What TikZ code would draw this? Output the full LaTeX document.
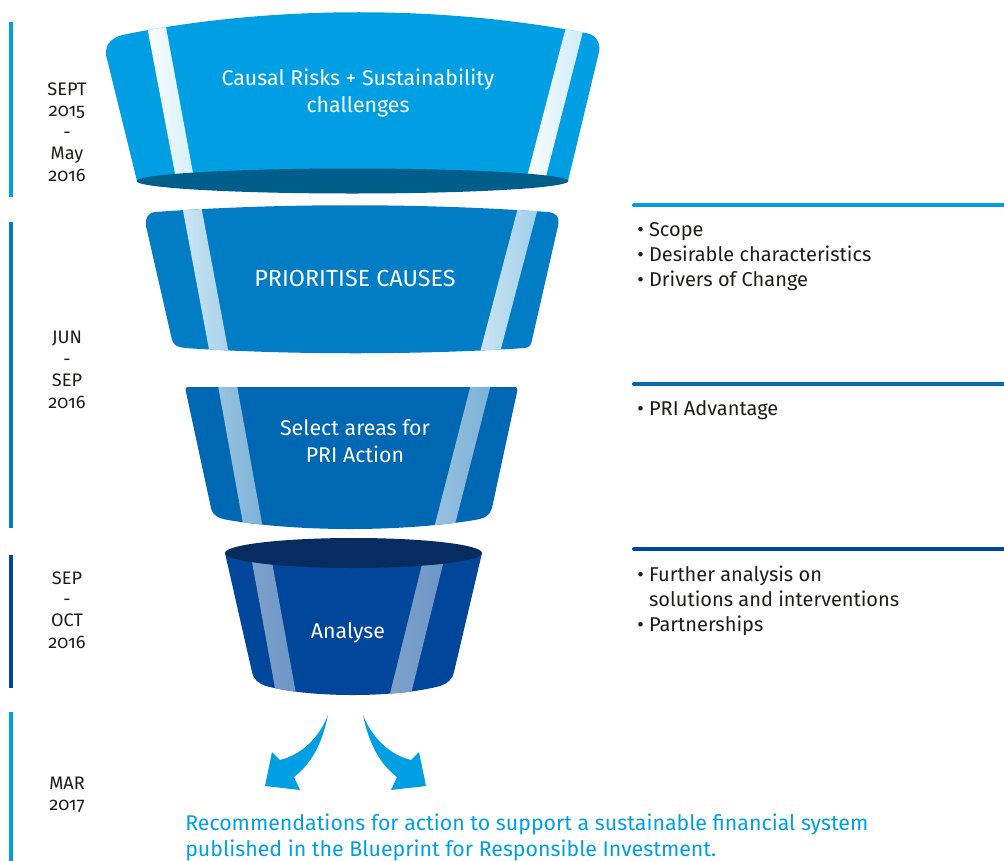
\documentclass[tikz,border=0pt]{standalone}
\usepackage{fontspec}
\setmainfont[Numbers=OldStyle]{Fira Sans}
\definecolor{cyanA}{HTML}{009FE3}
\definecolor{blueB}{HTML}{007DC5}
\definecolor{blueC}{HTML}{0068B3}
\definecolor{blueD}{HTML}{00469A}
\definecolor{tealA}{HTML}{005F8A}
\definecolor{navyD}{HTML}{062C60}
\definecolor{inkA}{HTML}{1D1D1B}
\begin{document}
\begin{tikzpicture}[x=0.75pt,y=-0.75pt,
  date/.style={align=center,text=inkA,inner sep=0pt,font=\fontsize{13.6}{16.1}\selectfont},
  stage/.style={align=center,text=white,inner sep=0pt,font=\fontsize{16}{20.25}\selectfont},
  note/.style={anchor=base west,align=left,text=inkA,inner sep=0pt,font=\fontsize{15}{18.75}\selectfont},
  bar/.style={line width=2.6pt},
  rule/.style={line width=3pt,line cap=round}]
\useasboundingbox (0,0) rectangle (1004,861);
\draw[bar,cyanA] (11,22)--(11,197);
\draw[bar,blueB] (11,222)--(11,528);
\draw[bar,blueD] (11,555)--(11,688);
\draw[bar,cyanA] (11,712)--(11,861);
\node[date] (d1) at (67,132) {SEPT\\2015\\-\\May\\2016};
\node[date] (d2) at (67,370) {JUN\\-\\SEP\\2016};
\node[date] (d3) at (67,610) {SEP\\-\\OCT\\2016};
\node[date] (d4) at (67,795) {MAR\\2017};
\begin{scope}
\clip (106,55) .. controls (105,44) and (112,38) .. (122,35)
  .. controls (270,5) and (440,5) .. (586,33)
  .. controls (595,35) and (601,41) .. (599,52) -- (568,181) -- (137,181) -- cycle;
\fill[cyanA] (90,0) rectangle (620,200);
\shade[left color=white,right color=cyanA!18] (142,0)--(161,0)--(198,200)--(180,200)--cycle;
\shade[left color=white,right color=cyanA!22] (573,0)--(591,0)--(540,200)--(521,200)--cycle;
\end{scope}
\fill[tealA] (352.5,181) ellipse (216 and 12.5);
\node[stage] (risks) at (358,93) {Causal Risks + Sustainability\\challenges};
\begin{scope}
\clip (146,226) -- (172,340) .. controls (174,346) and (178,347) .. (185,348)
  .. controls (290,355) and (420,355) .. (525,348)
  .. controls (530,347) and (531,345) .. (532,340) -- (558,226)
  .. controls (560,216) and (556,213) .. (548,212)
  .. controls (420,203) and (280,203) .. (155,212)
  .. controls (148,213) and (145,218) .. (146,226) -- cycle;
\fill[blueB] (130,200) rectangle (580,360);
\shade[left color=blueB!20!white,right color=blueB!35!white] (181,200)--(200,200)--(230,360)--(211,360)--cycle;
\shade[left color=blueB!20!white,right color=blueB!38!white] (520,200)--(540,200)--(498,360)--(478,360)--cycle;
\end{scope}
\node[stage,font=\fontsize{17.5}{20.25}\selectfont] (prior) at (355,278) {PRIORITISE CAUSES};
\begin{scope}
\clip (186,392) -- (211,508) .. controls (213,516) and (218,518) .. (228,520)
  .. controls (300,532) and (400,532) .. (475,520)
  .. controls (486,518) and (490,515) .. (492,508) -- (517,392)
  .. controls (518,388) and (517,387) .. (514,387) -- (189,387)
  .. controls (186,387) and (185,388) .. (186,392) -- cycle;
\fill[blueC] (170,380) rectangle (540,540);
\shade[left color=blueC!40!white,right color=blueC!52!white] (217,380)--(236,380)--(265,540)--(246,540)--cycle;
\shade[left color=blueC!40!white,right color=blueC!52!white] (472,380)--(492,380)--(451,540)--(431,540)--cycle;
\end{scope}
\node[stage] (select) at (355,441) {Select areas for\\PRI Action};
\begin{scope}
\clip (225,553) -- (252,672) .. controls (254,680) and (258,683) .. (266,686)
  .. controls (310,698) and (395,698) .. (440,686)
  .. controls (448,683) and (452,680) .. (454,672) -- (482,553) -- cycle;
\fill[blueD] (210,540) rectangle (500,710);
\shade[left color=blueD!50!white,right color=blueD!58!white] (248,540)--(268,540)--(299,710)--(279,710)--cycle;
\shade[left color=blueD!50!white,right color=blueD!58!white] (428,540)--(449,540)--(407,710)--(386,710)--cycle;
\end{scope}
\fill[navyD] (353.5,553) ellipse (128.5 and 15);
\node[stage] (analyse) at (348,633) {Analyse};
\fill[cyanA] (328,715) .. controls (322,745) and (310,765) .. (294,777) -- (300,790)
  -- (265,786) -- (272,752) -- (280,760) .. controls (300,755) and (318,740) .. (328,715) -- cycle;
\fill[cyanA] (363,715) .. controls (369,745) and (381,765) .. (397,777) -- (391,790)
  -- (426,786) -- (419,752) -- (411,760) .. controls (391,755) and (373,740) .. (363,715) -- cycle;
\node[anchor=base west,align=left,text=cyanA,inner sep=0pt,font=\fontsize{16}{19.5}\selectfont] (blueprint) at (185,856)
  {Recommendations for action to support a sustainable financial system\\published in the Blueprint for Responsible Investment.};
\draw[rule,cyanA] (634,205)--(1010,205);
\draw[rule,blueC] (634,384)--(1010,384);
\draw[rule,blueD] (634,549)--(1010,549);
\node[note] (n1) at (637,286) {\textbullet~Scope\\\textbullet~Desirable characteristics\\\textbullet~Drivers of Change};
\node[note] (n2) at (637,415) {\textbullet~PRI Advantage};
\node[note] (n3) at (637,631) {\textbullet~Further analysis on\\\phantom{\textbullet~}solutions and interventions\\\textbullet~Partnerships};
\end{tikzpicture}
\end{document}
